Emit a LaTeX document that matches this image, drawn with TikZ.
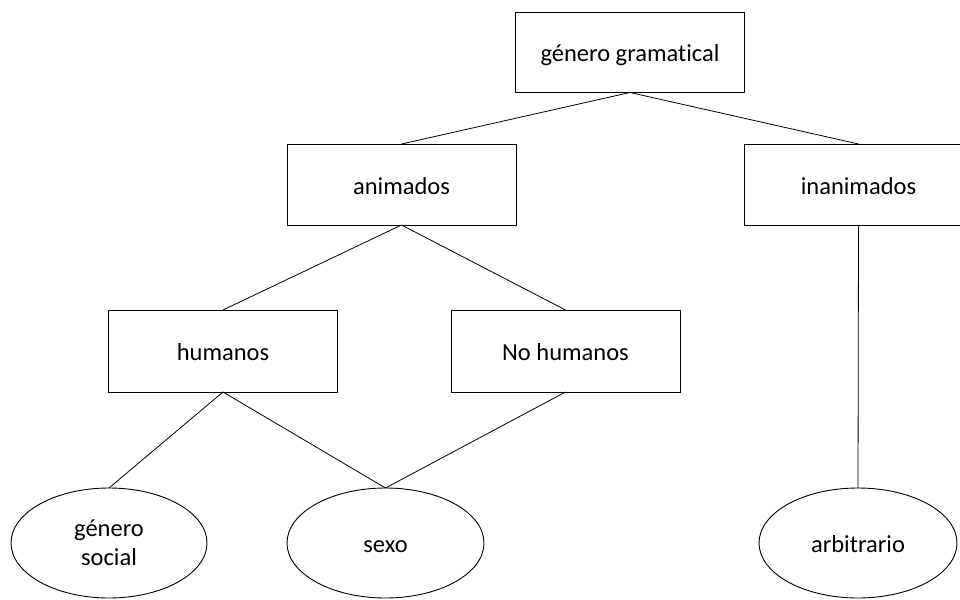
\documentclass[tikz,border=0pt]{standalone}
\usepackage{fontspec}
\setmainfont{Carlito}[Ligatures=NoCommon]
\usetikzlibrary{shapes.geometric}
\begin{document}
\begin{tikzpicture}[x=1pt,y=-1pt,
  every node/.style={font=\fontsize{24.5}{29}\selectfont, inner sep=0pt, outer sep=0pt, line width=0.9pt},
  single/.style={text height=22pt, text depth=3pt},
  box/.style={draw, rectangle, single, minimum width=229pt, minimum height=81pt},
  oval/.style={draw, ellipse, minimum width=197pt, minimum height=110pt, align=center},
  conn/.style={line width=0.8pt}]
\useasboundingbox (0,0) rectangle (960,599);
\clip (0,0) rectangle (960,599);
\node[box, minimum height=80pt] (gg) at (630,52.5) {género gramatical};
\node[box] (anim) at (401.5,184.5) {animados};
\node[box] (inan) at (858.5,184.5) {inanimados};
\node[box, minimum height=82pt] (hum) at (223,351) {humanos};
\node[box, minimum height=82pt] (noh) at (565.5,351) {No humanos};
\node[oval, minimum width=196pt] (gs) at (109,543) {género\\social};
\node[oval, single] (sexo) at (385.5,543) {sexo};
\node[oval, single, minimum width=198pt] (arb) at (858,543) {arbitrario};
\draw[conn] (gg.south) -- (anim.north);
\draw[conn] (gg.south) -- (inan.north);
\draw[conn] (anim.south) -- (hum.north);
\draw[conn] (anim.south) -- (noh.north);
\draw[conn] (hum.south) -- (gs.north);
\draw[conn] (hum.south) -- (sexo.north);
\draw[conn] (noh.south) -- (sexo.north);
\draw[conn] (inan.south) -- (arb.north);
\end{tikzpicture}
\end{document}
